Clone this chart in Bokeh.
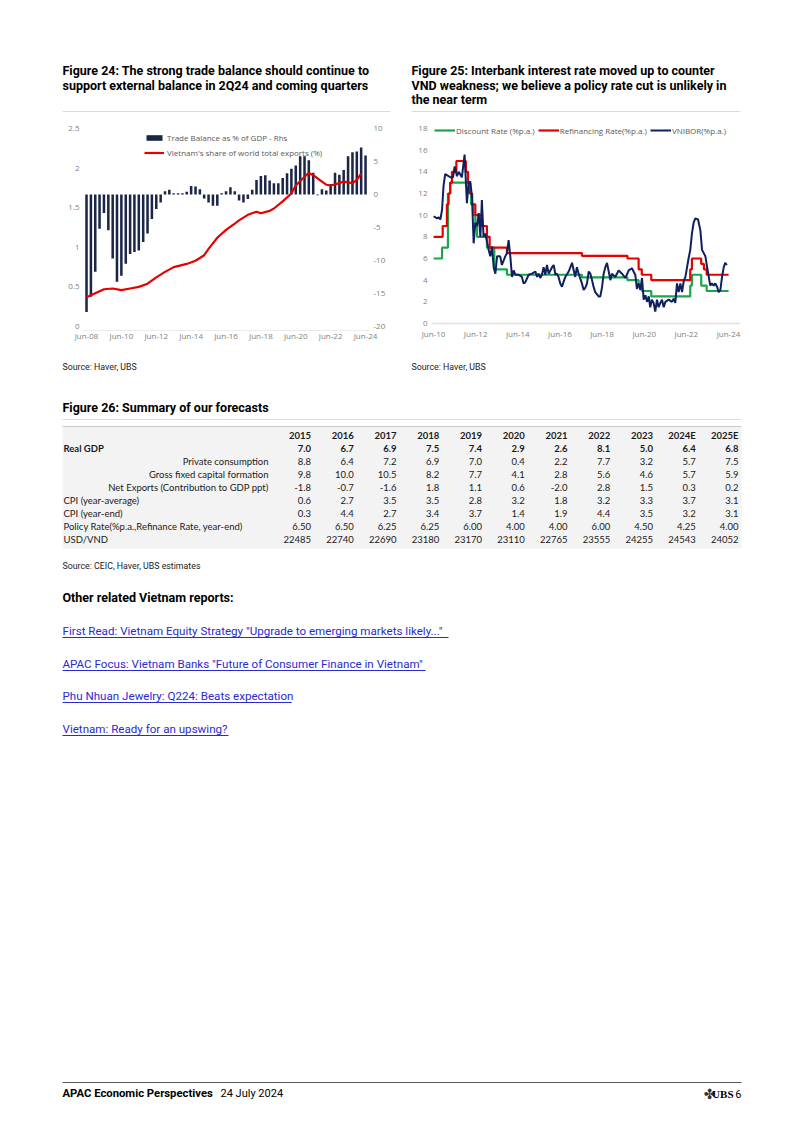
import numpy as np
import pandas as pd
from bokeh.plotting import figure
from bokeh.models import (Range1d, LinearAxis, DatetimeAxis, FixedTicker, DatetimeTickFormatter,
                          NumeralTickFormatter, Legend, LegendItem, ColumnDataSource, Spacer, Span)
from bokeh.layouts import column, row
from bokeh.core.properties import value
from bokeh.embed import file_html
from bokeh.resources import INLINE

# ---------------- DATA ----------------
# Figure 24: quarterly trade balance (% of GDP, rhs), Jun-08 .. Jun-24
tb_dates = pd.date_range("2008-06-01", "2024-06-01", freq="3MS")
trade_balance = [-17.8, -15.5, -11.7, -5.2, -2.8, -5.4, -9.7, -13.2, -12.3, -10.5,
                 -9.0, -8.7, -8.5, -7.2, -5.9, -3.7, -2.2, -1.2, 0.5, 0.7,
                 0.2, 0.2, 0.2, 0.4, 1.3, 1.2, 0.8, -0.6, -1.2, -1.7,
                 -1.7, 0.2, 0.5, 1.1, 0.5, -0.9, -1.2, -0.7, 0.7, 2.2,
                 2.8, 2.9, 2.1, 1.7, 1.7, 2.5, 3.2, 3.9, 4.4, 5.8,
                 5.8, 5.2, 3.3, -0.1, 0.8, 0.6, 1.6, 3.3, 3.0, 3.7,
                 5.8, 6.4, 6.5, 7.1, 5.9]
# Vietnam's share of world total exports (%), lhs
share_dates = ["2008-06", "2008-12", "2009-06", "2009-12", "2010-06", "2010-12", "2011-06", "2011-12",
               "2012-06", "2012-12", "2013-06", "2014-03", "2014-09", "2015-03", "2015-06", "2015-12",
               "2016-06", "2016-12", "2017-03", "2017-09", "2018-03", "2018-06", "2018-12", "2019-03",
               "2019-09", "2020-03", "2020-06", "2020-12", "2021-03", "2021-06", "2021-12", "2022-03",
               "2022-06", "2022-12", "2023-03", "2023-09", "2023-12", "2024-03"]
export_share = [0.37, 0.42, 0.47, 0.48, 0.46, 0.48, 0.50, 0.54,
                0.62, 0.69, 0.75, 0.79, 0.83, 0.90, 0.98, 1.12,
                1.22, 1.30, 1.34, 1.41, 1.45, 1.43, 1.46, 1.49,
                1.58, 1.68, 1.78, 1.89, 1.94, 1.91, 1.83, 1.79,
                1.78, 1.81, 1.83, 1.81, 1.85, 1.93]
fig24_ticks = ["Jun-08", "Jun-10", "Jun-12", "Jun-14", "Jun-16", "Jun-18", "Jun-20", "Jun-22", "Jun-24"]

# Figure 25: policy rates (change dates in decimal years) and VNIBOR
disc_years = [2010.42, 2010.82, 2011.10, 2011.20, 2012.10, 2012.20, 2012.30, 2012.40, 2012.48,
              2012.95, 2013.30, 2013.90, 2017.46, 2019.62, 2020.15, 2020.30, 2020.75,
              2022.60, 2022.68, 2023.12, 2023.38, 2024.42]
disc_rate = [6.0, 7.0, 12.0, 13.0, 12.0, 11.0, 10.0, 9.0, 8.0,
             7.0, 5.0, 4.5, 4.25, 4.0, 3.5, 3.0, 2.5,
             3.5, 4.5, 3.5, 3.0, 3.0]
refi_years = [2010.42, 2010.85, 2011.05, 2011.13, 2011.21, 2011.29, 2011.50, 2011.95, 2012.05,
              2012.15, 2012.25, 2012.40, 2012.70, 2012.95, 2013.08, 2013.90, 2017.46, 2019.62,
              2020.15, 2020.30, 2020.75, 2022.60, 2022.68, 2023.12, 2023.25, 2023.38, 2024.42]
refi_rate = [8.0, 9.0, 11.0, 12.0, 13.0, 14.0, 15.0, 14.0, 13.0,
             12.0, 11.0, 10.0, 9.0, 8.0, 7.0, 6.5, 6.25, 6.0,
             5.0, 4.5, 4.0, 5.0, 6.0, 5.5, 5.0, 4.5, 4.5]
vnibor_years = [2010.42, 2010.58, 2010.66, 2010.74, 2010.82, 2010.89, 2010.97, 2011.05, 2011.21, 2011.34,
                2011.42, 2011.53, 2011.61, 2011.76, 2011.89, 2012.00, 2012.08, 2012.16, 2012.24, 2012.32,
                2012.40, 2012.48, 2012.56, 2012.64, 2012.71, 2012.79, 2012.87, 2012.95, 2013.03, 2013.11,
                2013.19, 2013.27, 2013.35, 2013.43, 2013.58, 2013.66, 2013.82, 2013.90, 2013.98, 2014.06,
                2014.14, 2014.22, 2014.30, 2014.45, 2014.61, 2014.69, 2014.77, 2014.93, 2015.09, 2015.25,
                2015.33, 2015.40, 2015.48, 2015.56, 2015.64, 2015.72, 2015.80, 2015.88, 2016.04, 2016.12,
                2016.20, 2016.27, 2016.35, 2016.43, 2016.51, 2016.67, 2016.83, 2016.99, 2017.07, 2017.14,
                2017.22, 2017.30, 2017.46, 2017.54, 2017.62, 2017.70, 2017.78, 2017.86, 2017.94, 2018.01,
                2018.09, 2018.25, 2018.33, 2018.41, 2018.49, 2018.57, 2018.65, 2018.73, 2018.81, 2018.88,
                2019.04, 2019.20, 2019.36, 2019.52, 2019.68, 2019.83, 2019.99, 2020.07, 2020.15, 2020.23,
                2020.31, 2020.39, 2020.47, 2020.55, 2020.63, 2020.70, 2020.78, 2020.86, 2020.94, 2021.02,
                2021.10, 2021.18, 2021.26, 2021.34, 2021.42, 2021.58, 2021.73, 2021.81, 2021.89, 2021.97,
                2022.05, 2022.13, 2022.21, 2022.29, 2022.37, 2022.45, 2022.52, 2022.60, 2022.68, 2022.76,
                2022.84, 2022.97, 2023.08, 2023.16, 2023.24, 2023.32, 2023.40, 2023.48, 2023.55, 2023.63,
                2023.71, 2023.79, 2023.87, 2023.95, 2024.03, 2024.11, 2024.19, 2024.26, 2024.34]
vnibor = [9.9, 9.7, 9.8, 9.6, 10.5, 12.7, 13.8, 13.7, 13.5, 13.5,
          14.5, 13.6, 14.0, 13.5, 15.6, 11.1, 13.0, 13.1, 11.7, 7.4,
          9.3, 9.0, 10.2, 8.0, 11.4, 8.0, 8.3, 7.6, 6.8, 6.2,
          7.1, 5.2, 4.6, 6.2, 6.2, 5.4, 6.2, 6.5, 7.7, 6.2,
          4.3, 4.9, 4.5, 4.5, 4.3, 3.7, 3.8, 4.5, 4.6, 4.8,
          4.3, 4.6, 4.2, 4.5, 5.2, 4.5, 5.4, 4.6, 5.2, 5.4,
          4.5, 4.6, 4.3, 3.7, 3.4, 4.3, 4.8, 5.6, 4.9, 4.3,
          5.2, 4.6, 3.7, 3.1, 3.3, 3.7, 4.8, 4.6, 4.0, 3.4,
          2.9, 2.5, 2.5, 3.3, 4.6, 5.2, 5.6, 4.8, 4.0, 4.6,
          4.3, 4.9, 4.6, 4.2, 4.9, 5.1, 4.5, 3.2, 3.7, 3.1,
          4.2, 2.2, 2.6, 2.0, 2.5, 1.5, 2.2, 1.9, 1.1, 2.2,
          1.5, 1.9, 2.2, 1.5, 2.0, 2.2, 2.0, 2.3, 1.9, 3.7,
          2.9, 3.7, 2.9, 3.9, 4.3, 5.2, 6.0, 6.8, 8.3, 9.3,
          9.7, 9.6, 8.6, 6.8, 6.5, 6.2, 5.2, 4.3, 3.5, 3.7,
          3.5, 3.7, 3.4, 2.9, 3.1, 4.3, 5.2, 5.6, 5.4]
fig25_ticks = ["Jun-10", "Jun-12", "Jun-14", "Jun-16", "Jun-18", "Jun-20", "Jun-22", "Jun-24"]

# Figure 26: forecast table
tbl_years = ["2015", "2016", "2017", "2018", "2019", "2020", "2021", "2022", "2023", "2024E", "2025E"]
real_gdp = [7.0, 6.7, 6.9, 7.5, 7.4, 2.9, 2.6, 8.1, 5.0, 6.4, 6.8]
private_cons = [8.8, 6.4, 7.2, 6.9, 7.0, 0.4, 2.2, 7.7, 3.2, 5.7, 7.5]
gfcf = [9.8, 10.0, 10.5, 8.2, 7.7, 4.1, 2.8, 5.6, 4.6, 5.7, 5.9]
net_exports = [-1.8, -0.7, -1.6, 1.8, 1.1, 0.6, -2.0, 2.8, 1.5, 0.3, 0.2]
cpi_avg = [0.6, 2.7, 3.5, 3.5, 2.8, 3.2, 1.8, 3.2, 3.3, 3.7, 3.1]
cpi_end = [0.3, 4.4, 2.7, 3.4, 3.7, 1.4, 1.9, 4.4, 3.5, 3.2, 3.1]
policy_rate = [6.50, 6.50, 6.25, 6.25, 6.00, 4.00, 4.00, 6.00, 4.50, 4.25, 4.00]
usd_vnd = [22485, 22740, 22690, 23180, 23170, 23110, 22765, 23555, 24255, 24543, 24052]

links = ['First Read: Vietnam Equity Strategy "Upgrade to emerging markets likely..."',
         'APAC Focus: Vietnam Banks "Future of Consumer Finance in Vietnam"',
         'Phu Nhuan Jewelry: Q224: Beats expectation',
         'Vietnam: Ready for an upswing?']

# ---------------- HELPERS ----------------
MS_PER_YEAR = 365.2425 * 86400000.0


def yr2ms(y):
    return (np.asarray(y, dtype=float) - 1970.0) * MS_PER_YEAR


def date_ms(s):
    return pd.to_datetime(pd.Series(s)).astype("int64").to_numpy() / 1e6


def tick_ms(labels):
    return [float(pd.Timestamp("20" + l[-2:] + "-06-01").value / 1e6) for l in labels]


TICK_FONT = "Open Sans"
TICK_COLOR = "#7f7f7f"
NAVY = "#1b2647"
RED = "#e60000"


def style_axis(ax, standoff=2):
    ax.axis_line_color = None
    ax.major_tick_line_color = None
    ax.minor_tick_line_color = None
    ax.major_tick_out = 0
    ax.major_tick_in = 0
    ax.minor_tick_out = 0
    ax.minor_tick_in = 0
    ax.major_label_text_font = TICK_FONT
    ax.major_label_text_font_size = "8px"
    ax.major_label_text_color = TICK_COLOR
    ax.major_label_standoff = standoff


def dt_formatter():
    f = "%b-%y"
    return DatetimeTickFormatter(years=f, months=f, days=f, hours=f, hourmin=f, minutes=f,
                                 minsec=f, seconds=f, milliseconds=f, microseconds=f,
                                 strip_leading_zeros=False)


def text_fig(w, h, y0, y1):
    p = figure(width=w, height=h, x_range=Range1d(0, w), y_range=Range1d(y1, y0),
               x_axis_type=None, y_axis_type=None, min_border=0, toolbar_location=None,
               output_backend="svg", outline_line_color=None)
    return p


def txt(p, x, y, s, size, bold=False, color="#000000", font="Roboto", align="left"):
    p.text(x=[x], y=[y], text=[s], text_font=value(font), text_font_size=f"{size}px",
           text_font_style="bold" if bold else "normal", text_color=color,
           text_align=align, text_baseline="middle")


TITLE_FONT = "Roboto"
TITLE_SIZE = 12.5

# ---------------- TOP (titles) ----------------
top = text_fig(802, 118, 0, 118)
for i, s in enumerate(["Figure 24: The strong trade balance should continue to",
                       "support external balance in 2Q24 and coming quarters"]):
    txt(top, 62, 70 + 14.5 * i, s, TITLE_SIZE, bold=True, font=TITLE_FONT)
for i, s in enumerate(["Figure 25: Interbank interest rate moved up to counter",
                       "VND weakness; we believe a policy rate cut is unlikely in",
                       "the near term"]):
    txt(top, 411, 70 + 14.5 * i, s, TITLE_SIZE, bold=True, font=TITLE_FONT)
top.segment(x0=[62, 411], y0=[111, 111], x1=[390, 740], y1=[111, 111], line_color="#dcdcdc", line_width=1)

# ---------------- FIGURE 24 ----------------
# frame: x 82..370, y 124..330 (page px)
p1 = figure(width=350, height=232, output_backend="svg", toolbar_location=None,
            x_axis_type=None, y_axis_type=None,
            x_range=Range1d(float(yr2ms(2008.185)), float(yr2ms(2024.70))),
            y_range=Range1d(-0.0505, 2.5505),
            min_border_left=32, min_border_right=30, min_border_top=6, min_border_bottom=20,
            outline_line_color=None)
p1.extra_y_ranges = {"rhs": Range1d(-20.6, 10.6)}
p1.xgrid.visible = False
p1.ygrid.visible = False

src_tb = ColumnDataSource(dict(x=date_ms(tb_dates), top=trade_balance))
bars = p1.vbar(x="x", top="top", bottom=0, width=0.145 * MS_PER_YEAR, source=src_tb,
               fill_color=NAVY, line_color=None, y_range_name="rhs")
src_sh = ColumnDataSource(dict(x=date_ms(share_dates), y=export_share))
shline = p1.line(x="x", y="y", source=src_sh, line_color=RED, line_width=2.2)

xa1 = DatetimeAxis(ticker=FixedTicker(ticks=tick_ms(fig24_ticks)), formatter=dt_formatter())
style_axis(xa1, -1)
xa1.axis_line_color = "#ececec"
p1.add_layout(xa1, "below")
ya1 = LinearAxis(ticker=FixedTicker(ticks=[0, 0.5, 1, 1.5, 2, 2.5]), formatter=NumeralTickFormatter(format="0.[0]"))
style_axis(ya1, 3)
p1.add_layout(ya1, "left")
yr1 = LinearAxis(y_range_name="rhs", ticker=FixedTicker(ticks=[-20, -15, -10, -5, 0, 5, 10]),
                 formatter=NumeralTickFormatter(format="0"))
style_axis(yr1, 3)
p1.add_layout(yr1, "right")

leg1 = Legend(items=[LegendItem(label="Trade Balance as % of GDP - Rhs", renderers=[bars]),
                     LegendItem(label="Vietnam's share of world total exports (%)", renderers=[shline])],
              location=(62, 172), orientation="vertical", glyph_width=20, glyph_height=7,
              label_height=12, label_standoff=3, spacing=3, padding=0, margin=0,
              border_line_color=None, background_fill_alpha=0,
              label_text_font=TICK_FONT, label_text_font_size="8px", label_text_color="#595959")
p1.add_layout(leg1)

# ---------------- FIGURE 25 ----------------
# frame: x 431..740, y 124..330 (page px); value 0 at y 323
p2 = figure(width=350, height=232, output_backend="svg", toolbar_location=None,
            x_axis_type=None, y_axis_type=None,
            x_range=Range1d(float(yr2ms(2010.319)), float(yr2ms(2024.985))),
            y_range=Range1d(-0.646, 18.37),
            min_border_left=31, min_border_right=10, min_border_top=6, min_border_bottom=20,
            outline_line_color=None)
p2.xgrid.visible = False
p2.ygrid.visible = False
p2.add_layout(Span(location=0, dimension="width", line_color="#e3e3e3", line_width=1.5))

GREEN = "#1aa64a"
VNAVY = "#0f2060"
g_disc = p2.step(x=yr2ms(disc_years), y=disc_rate, mode="after", line_color=GREEN, line_width=2.2)
g_refi = p2.step(x=yr2ms(refi_years), y=refi_rate, mode="after", line_color=RED, line_width=2.2)
g_vn = p2.line(x=yr2ms(vnibor_years), y=vnibor, line_color=VNAVY, line_width=2)

xa2 = DatetimeAxis(ticker=FixedTicker(ticks=tick_ms(fig25_ticks)), formatter=dt_formatter())
style_axis(xa2, -3)
p2.add_layout(xa2, "below")
ya2 = LinearAxis(ticker=FixedTicker(ticks=list(range(0, 19, 2))))
style_axis(ya2, 4)
p2.add_layout(ya2, "left")

leg2 = Legend(items=[LegendItem(label="Discount Rate (%p.a.)", renderers=[g_disc]),
                     LegendItem(label="Refinancing Rate(%p.a.)", renderers=[g_refi]),
                     LegendItem(label="VNIBOR(%p.a.)", renderers=[g_vn])],
              location=(3, 194), orientation="horizontal", glyph_width=21, glyph_height=12,
              label_height=12, label_standoff=1, spacing=3, padding=0, margin=0,
              border_line_color=None, background_fill_alpha=0,
              label_text_font=TICK_FONT, label_text_font_size="8px", label_text_color="#595959")
p2.add_layout(leg2)

mid = row(Spacer(width=50, height=232), p1, p2, Spacer(width=52, height=232), spacing=0)

# ---------------- BOTTOM (sources, table, links, footer) ----------------
bot = text_fig(802, 784, 350, 1134)
SRC_SIZE = 8.8
txt(bot, 62, 366, "Source: Haver, UBS", SRC_SIZE, font="Roboto", color="#222222")
txt(bot, 411, 366, "Source: Haver, UBS", SRC_SIZE, font="Roboto", color="#222222")
txt(bot, 62, 407, "Figure 26: Summary of our forecasts", TITLE_SIZE, bold=True, font=TITLE_FONT)
bot.segment(x0=[62], y0=[419], x1=[741], y1=[419], line_color="#dcdcdc", line_width=1)

bot.quad(left=[62], right=[741], top=[426], bottom=[548], fill_color="#f3f3f3", line_color=None)
bot.segment(x0=[62], y0=[426], x1=[741], y1=[426], line_color="#c9c9c9", line_width=1)

col_right = [310.5 + 42.75 * i for i in range(len(tbl_years))]
TF = "Lato"
TS = 9.5
bot.text(x=col_right, y=[434.5] * len(tbl_years), text=tbl_years, text_font=value(TF),
         text_font_size=f"{TS}px", text_font_style="bold", text_align="right",
         text_baseline="middle", text_color="#1a1a1a")

rows_spec = [("Real GDP", real_gdp, "left", True, "{:.1f}"),
             ("Private consumption", private_cons, "right", False, "{:.1f}"),
             ("Gross fixed capital formation", gfcf, "right", False, "{:.1f}"),
             ("Net Exports (Contribution to GDP ppt)", net_exports, "right", False, "{:.1f}"),
             ("CPI (year-average)", cpi_avg, "left", False, "{:.1f}"),
             ("CPI (year-end)", cpi_end, "left", False, "{:.1f}"),
             ("Policy Rate(%p.a.,Refinance Rate, year-end)", policy_rate, "left", False, "{:.2f}"),
             ("USD/VND", usd_vnd, "left", False, "{:d}")]
for k, (lab, vals, al, bold, fmt) in enumerate(rows_spec):
    y = 447.5 + 13.1 * k
    lx = 63 if al == "left" else 268
    bot.text(x=[lx], y=[y], text=[lab], text_font=value(TF), text_font_size=f"{TS}px",
             text_font_style="bold" if bold else "normal", text_align=al,
             text_baseline="middle", text_color="#1a1a1a")
    bot.text(x=col_right, y=[y] * len(vals), text=[fmt.format(v) for v in vals],
             text_font=value(TF), text_font_size=f"{TS}px",
             text_font_style="bold" if bold else "normal", text_align="right",
             text_baseline="middle", text_color="#1a1a1a")

txt(bot, 62, 565, "Source: CEIC, Haver, UBS estimates", SRC_SIZE, font="Roboto", color="#222222")
txt(bot, 62, 597, "Other related Vietnam reports:", TITLE_SIZE, bold=True, font=TITLE_FONT)

LINK = "#2a2ad0"
link_y = [630, 663, 695, 728]
link_end = [448, 425, 291, 228]
for s, y, xe in zip(links, link_y, link_end):
    txt(bot, 62, y, s, 11.6, font="Roboto", color=LINK)
    bot.segment(x0=[62], y0=[y + 7], x1=[xe], y1=[y + 7], line_color=LINK, line_width=1)

bot.segment(x0=[62], y0=[1082], x1=[741], y1=[1082], line_color="#555555", line_width=1)
txt(bot, 62, 1093, "APAC Economic Perspectives", 11.3, bold=True, font="Roboto")
txt(bot, 220, 1093, "24 July 2024", 11, font="Roboto")
txt(bot, 709, 1093, "\u2724", 14, font="DejaVu Sans", color="#333333", align="center")
txt(bot, 733, 1093, "UBS", 11, bold=True, font="Liberation Serif", align="right")
txt(bot, 741, 1093, "6", 11, font="Roboto", align="right")

page = column(top, mid, bot, spacing=0)

with open("out.html", "w") as f:
    f.write(file_html(page, INLINE))
